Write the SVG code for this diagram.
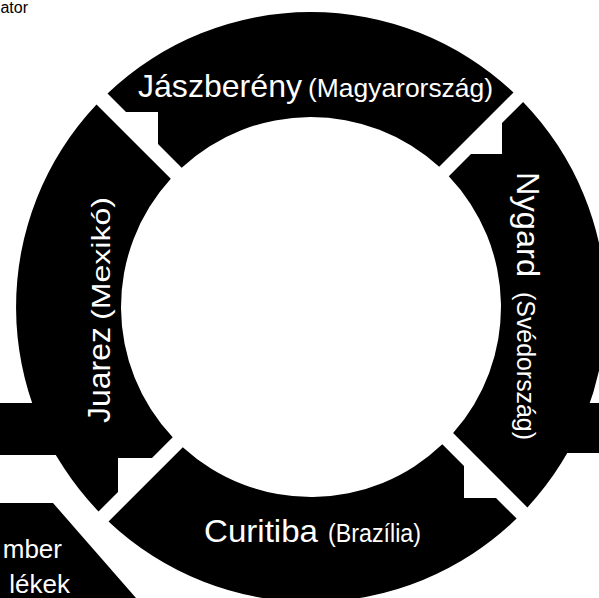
<svg xmlns="http://www.w3.org/2000/svg" width="599" height="598" viewBox="0 0 599 598">
<style>
.seg{fill:#000}
.lbl{fill:#fff;font-family:"Liberation Sans",Arial,sans-serif}
.big{font-size:32px}
.sm{font-size:25px}
.dark{fill:#000;font-family:"Liberation Sans",Arial,sans-serif}
</style>
<rect width="599" height="598" fill="#fff"/>
<g id="side-shapes">
<rect x="0" y="403" width="80" height="52" class="seg"/>
<rect x="560" y="403" width="39" height="50" class="seg"/>
<path d="M0,503 L53,503 L136,598 L0,598 Z" class="seg"/>
</g>
<g id="connectors"></g>
<g id="node-jaszbereny">
<path class="seg" d="M107.5,93.5 A295,295 0 0 1 513.5,92.5 L439.2,166.8 A190,190 0 0 0 181.7,167.7 L158,144 L158,112 L126,112 Z"/>
<text class="lbl big" x="138" y="97" textLength="164" lengthAdjust="spacingAndGlyphs">Jászberény</text>
<text class="lbl sm" x="308" y="97" textLength="185" lengthAdjust="spacingAndGlyphs">(Magyarország)</text>
</g>
<g id="node-nygard">
<path class="seg" d="M523.1,101.9 A295,295 0 0 1 527.4,507.4 L453.1,433.1 A190,190 0 0 0 448.8,176.2 L471,154 L502,154 L502,123 Z"/>
<g transform="translate(517,172) rotate(90)">
<text class="lbl big" x="0" y="0" textLength="105" lengthAdjust="spacingAndGlyphs">Nygard</text>
<text class="lbl sm" x="120" y="0" textLength="148" lengthAdjust="spacingAndGlyphs">(Svédország)</text>
</g>
</g>
<g id="node-curitiba">
<path class="seg" d="M516.6,518.6 A295,295 0 0 1 108.5,521.5 L182.8,447.2 A190,190 0 0 0 442.3,444.3 L464,466 L464,498 L496,498 Z"/>
<text class="lbl big" x="204" y="542" textLength="114" lengthAdjust="spacingAndGlyphs">Curitiba</text>
<text class="lbl sm" x="328" y="542" textLength="93" lengthAdjust="spacingAndGlyphs">(Brazília)</text>
</g>
<g id="node-juarez">
<path class="seg" d="M98.5,511.5 A295,295 0 0 1 96.5,104.5 L170.8,178.8 A190,190 0 0 0 172.7,437.3 L152,458 L118,458 L118,492 Z"/>
<g transform="translate(110,423) rotate(-90)">
<text class="lbl big" x="0" y="0" textLength="96" lengthAdjust="spacingAndGlyphs">Juarez</text>
<text class="lbl sm" x="103" y="0" textLength="123" lengthAdjust="spacingAndGlyphs">(Mexikó)</text>
</g>
</g>
<g id="partial-texts">
<text class="dark" x="28" y="13" font-size="16" text-anchor="end">ator</text>
<text class="lbl" x="62" y="558" font-size="26" text-anchor="end">mber</text>
<text class="lbl" x="70" y="593" font-size="26" text-anchor="end">lékek</text>
</g>
</svg>
